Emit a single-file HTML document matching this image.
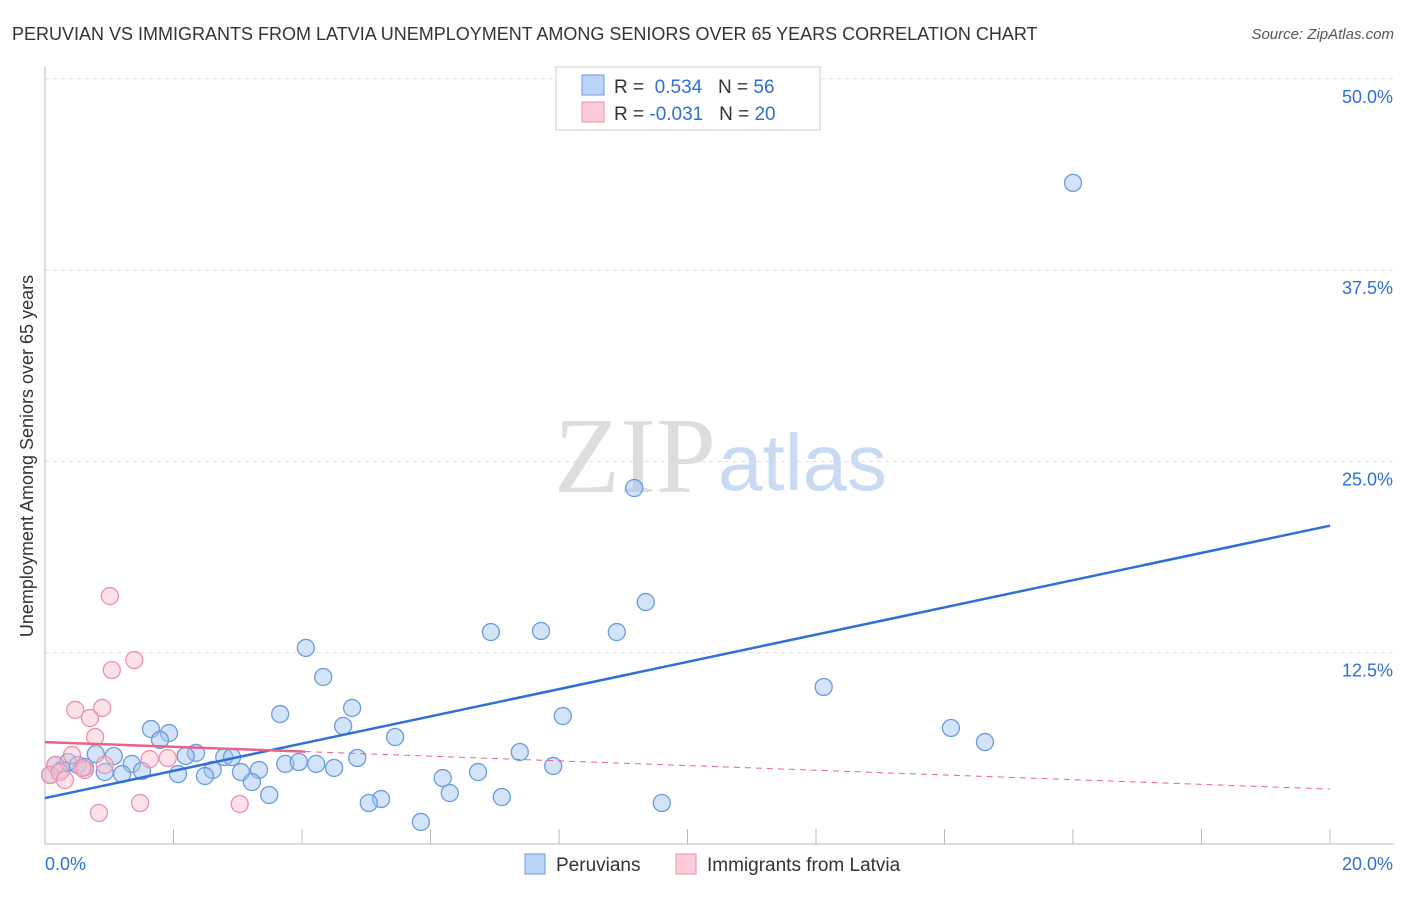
<!DOCTYPE html>
<html><head><meta charset="utf-8"><style>
body{margin:0;background:#fff;font-family:"Liberation Sans",sans-serif}
</style></head><body>
<svg id="c" width="1406" height="892" xmlns="http://www.w3.org/2000/svg">
<text x="12" y="40" font-size="18" fill="#333">PERUVIAN VS IMMIGRANTS FROM LATVIA UNEMPLOYMENT AMONG SENIORS OVER 65 YEARS CORRELATION CHART</text>
<text x="1394" y="39" font-size="15" fill="#555" font-style="italic" text-anchor="end">Source: ZipAtlas.com</text>
<text transform="translate(33,456) rotate(-90)" font-size="18" fill="#333" text-anchor="middle">Unemployment Among Seniors over 65 years</text>
<text x="716" y="492" font-size="108" fill="#ddd" text-anchor="end" font-family="Liberation Serif,serif">ZIP</text>
<text x="718" y="490" font-size="80" fill="#c9daf2">atlas</text>
<g id="grid"></g><g id="pts"></g><g id="lines"></g>
<g>
<rect x="556" y="67" width="264" height="63" fill="#fff" stroke="#ccc"/>
<rect x="582" y="75" width="22" height="20" fill="#bcd4f5" stroke="#6a9be0"/>
<rect x="582" y="102" width="22" height="20" fill="#fbcbd8" stroke="#ee90aa"/>
<text x="614" y="93" font-size="19" fill="#333">R = <tspan fill="#2f6fd6">&#160;0.534</tspan>&#160;&#160;&#160;N = <tspan fill="#2f6fd6">56</tspan></text>
<text x="614" y="120" font-size="19" fill="#333">R = <tspan fill="#2f6fd6">-0.031</tspan>&#160;&#160;&#160;N = <tspan fill="#2f6fd6">20</tspan></text>
</g>
<g>
<rect x="525" y="854" width="20" height="20" fill="#bcd4f5" stroke="#6a9be0"/>
<text x="556" y="871" font-size="19" fill="#333">Peruvians</text>
<rect x="676" y="854" width="20" height="20" fill="#fbcbd8" stroke="#ee90aa"/>
<text x="707" y="871" font-size="19" fill="#333">Immigrants from Latvia</text>
</g>
</svg>
<script>
const yTicks=[12.5,25,37.5,50];
const xTickLabels=["0.0%","20.0%"];
const blueX=[16.0,9.17,9.35,6.94,7.72,8.90,4.06,4.33,12.12,4.78,3.66,8.06,4.64,14.10,14.63,5.45,1.65,1.93,1.79,7.39,0.79,1.07,2.35,2.19,2.79,2.91,4.86,1.35,3.74,3.95,4.22,7.91,4.50,1.51,2.07,0.93,1.20,2.61,3.05,3.33,2.49,6.19,6.74,3.22,3.49,6.30,7.11,5.23,5.04,9.60,5.85,0.16,0.26,0.36,0.51,0.08,0.62];
const blueY=[43.2,23.26,15.81,13.85,13.92,13.85,12.81,10.91,10.26,8.89,8.49,8.36,7.71,7.58,6.66,6.99,7.51,7.25,6.80,6.01,5.88,5.75,5.95,5.75,5.68,5.68,5.62,5.23,5.23,5.36,5.23,5.10,4.97,4.77,4.57,4.70,4.57,4.84,4.70,4.84,4.44,4.31,4.70,4.05,3.20,3.33,3.07,2.94,2.68,2.68,1.44,5.16,4.84,5.36,5.16,4.51,5.03];
const pinkX=[1.01,1.39,1.04,0.47,0.89,0.70,0.78,0.42,1.63,1.91,0.16,0.62,0.08,0.23,1.48,3.03,0.84,0.58,0.93,0.31];
const pinkY=[16.2,12.02,11.37,8.76,8.89,8.23,6.99,5.82,5.55,5.62,5.16,4.84,4.51,4.70,2.68,2.61,2.03,4.97,5.16,4.18];
const blueTrend=[3.0,20.8];
const pinkTrend=[6.66,3.59];
const pinkSolidEnd=4.05;
const NS="http://www.w3.org/2000/svg";
const X=v=>45+v/20*1285, Y=v=>844-v/12.5*191.3;
function mk(t,a,p){const e=document.createElementNS(NS,t);for(const k in a)e.setAttribute(k,a[k]);document.getElementById(p).appendChild(e);return e;}
yTicks.forEach(t=>{
 const l=mk('line',{x1:45,x2:1394,y1:Y(t),y2:Y(t),stroke:'#ddd','stroke-dasharray':'4,4'},'grid');
 
 
 const tx=mk('text',{x:1393,y:Y(t)+24,'font-size':18,fill:'#2f6fd6','text-anchor':'end'},'grid');tx.textContent=t.toFixed(1)+'%';
 
 
});
mk('line',{x1:45,x2:45,y1:67,y2:844,stroke:'#bbb'},'grid');
mk('line',{x1:45,x2:1394,y1:844,y2:844,stroke:'#bbb'},'grid');
for(let i=1;i<=10;i++){mk('line',{x1:X(i*2),x2:X(i*2),y1:829,y2:844,stroke:'#bbb'},'grid');}
xTickLabels.forEach((s,i)=>{const t=mk('text',{x:i?1393:45,y:870,'font-size':18,fill:'#2f6fd6','text-anchor':i?'end':'start'},'grid');t.textContent=s;
 
 });
blueX.forEach((v,i)=>{const c=mk('circle',{cx:X(v),cy:Y(blueY[i]),r:8.5,fill:'rgba(160,195,240,0.45)',stroke:'#6a9be0','stroke-width':1.3},'pts');
 
 });
pinkX.forEach((v,i)=>{const c=mk('circle',{cx:X(v),cy:Y(pinkY[i]),r:8.5,fill:'rgba(250,190,205,0.45)',stroke:'#ee90aa','stroke-width':1.3},'pts');
 
 });
let b=mk('line',{x1:X(0),y1:Y(blueTrend[0]),x2:X(20),y2:Y(blueTrend[1]),stroke:'#2f6fd6','stroke-width':2.5},'lines');


const pAt=v=>pinkTrend[0]+(pinkTrend[1]-pinkTrend[0])*v/20;
let p=mk('line',{x1:X(0),y1:Y(pAt(0)),x2:X(pinkSolidEnd),y2:Y(pAt(pinkSolidEnd)),stroke:'#e8628a','stroke-width':2.5},'lines');


let pd=mk('line',{x1:X(pinkSolidEnd),y1:Y(pAt(pinkSolidEnd)),x2:X(20),y2:Y(pAt(20)),stroke:'#e8628a','stroke-width':1,'stroke-dasharray':'6,5'},'lines');


</script>
</body></html>
